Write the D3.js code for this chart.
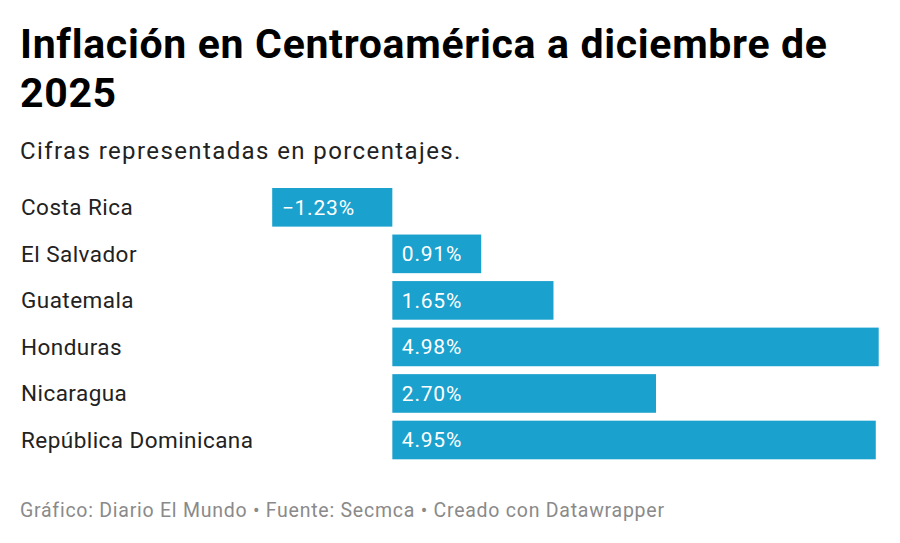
<!DOCTYPE html>
<html>
<head>
<meta charset="utf-8">
<script src="https://cdn.jsdelivr.net/npm/d3@7"></script>
<style>
  body { margin: 0; background: #fff; font-family: Roboto, sans-serif; }
</style>
</head>
<body>
<svg id="chart" width="900" height="543"></svg>
<script>
var countries = ['Costa Rica', 'El Salvador', 'Guatemala', 'Honduras', 'Nicaragua', 'República Dominicana']
var inflation = [-1.23, 0.91, 1.65, 4.98, 2.70, 4.95]
var titleLines = ['Inflación en Centroamérica a diciembre de', '2025']
var subtitle = 'Cifras representadas en porcentajes.'
var footer = 'Gráfico: Diario El Mundo • Fuente: Secmca • Creado con Datawrapper'

var svg = d3.select('#chart')
var barColor = '#1ba1cd'

// titulo
svg.selectAll('.title')
  .data(titleLines)
  .enter()
  .append('text')
  .attr('class', 'title')
  .attr('x', 20)
  .attr('y', function (d, i) { return 57.5 + i * 49.5 })
  .style('font-size', '41px')
  .style('font-weight', 700)
  .style('letter-spacing', '0.68px')
  .style('fill', '#000')
  .text(function (d) { return d })

svg.append('text')
  .attr('x', 20)
  .attr('y', 158.5)
  .style('font-size', '24px')
  .style('letter-spacing', '1.4px')
  .style('fill', '#222')
  .text(subtitle)

var data = countries.map(function (c, i) { return { name: c, value: inflation[i] } })

var x = d3.scaleLinear()
  .domain([-1.23, 4.98])
  .range([272.2, 878.7])

var y = d3.scaleBand()
  .domain(countries)
  .range([188, 459.3])
  .paddingInner(0.17)
  .paddingOuter(0)

var rows = svg.append('g').selectAll('.row')
  .data(data)
  .enter()
  .append('g')
  .attr('class', 'row')

rows.append('text')
  .attr('x', 21)
  .attr('y', function (d) { return y(d.name) + y.bandwidth() / 2 })
  .attr('dy', '0.35em')
  .style('font-size', '22.5px')
  .style('letter-spacing', '0.45px')
  .style('fill', '#222')
  .text(function (d) { return d.name })

rows.append('rect')
  .attr('x', function (d) { return x(Math.min(0, d.value)) })
  .attr('y', function (d) { return y(d.name) })
  .attr('width', function (d) { return Math.abs(x(d.value) - x(0)) })
  .attr('height', y.bandwidth())
  .style('fill', barColor)

rows.append('text')
  .attr('x', function (d) { return x(Math.min(0, d.value)) + 9.5 })
  .attr('y', function (d) { return y(d.name) + y.bandwidth() / 2 })
  .attr('dy', '0.35em')
  .style('font-size', '21px')
  .style('letter-spacing', '0.8px')
  .style('fill', '#fff')
  .text(function (d) {
    var s = d.value.toFixed(2) + '%'
    return d.value < 0 ? '\u2212' + s.slice(1) : s
  })

svg.append('text')
  .attr('x', 20)
  .attr('y', 517)
  .style('font-size', '19.5px')
  .style('letter-spacing', '0.75px')
  .style('fill', '#8a8a8a')
  .text(footer)
</script>
</body>
</html>
